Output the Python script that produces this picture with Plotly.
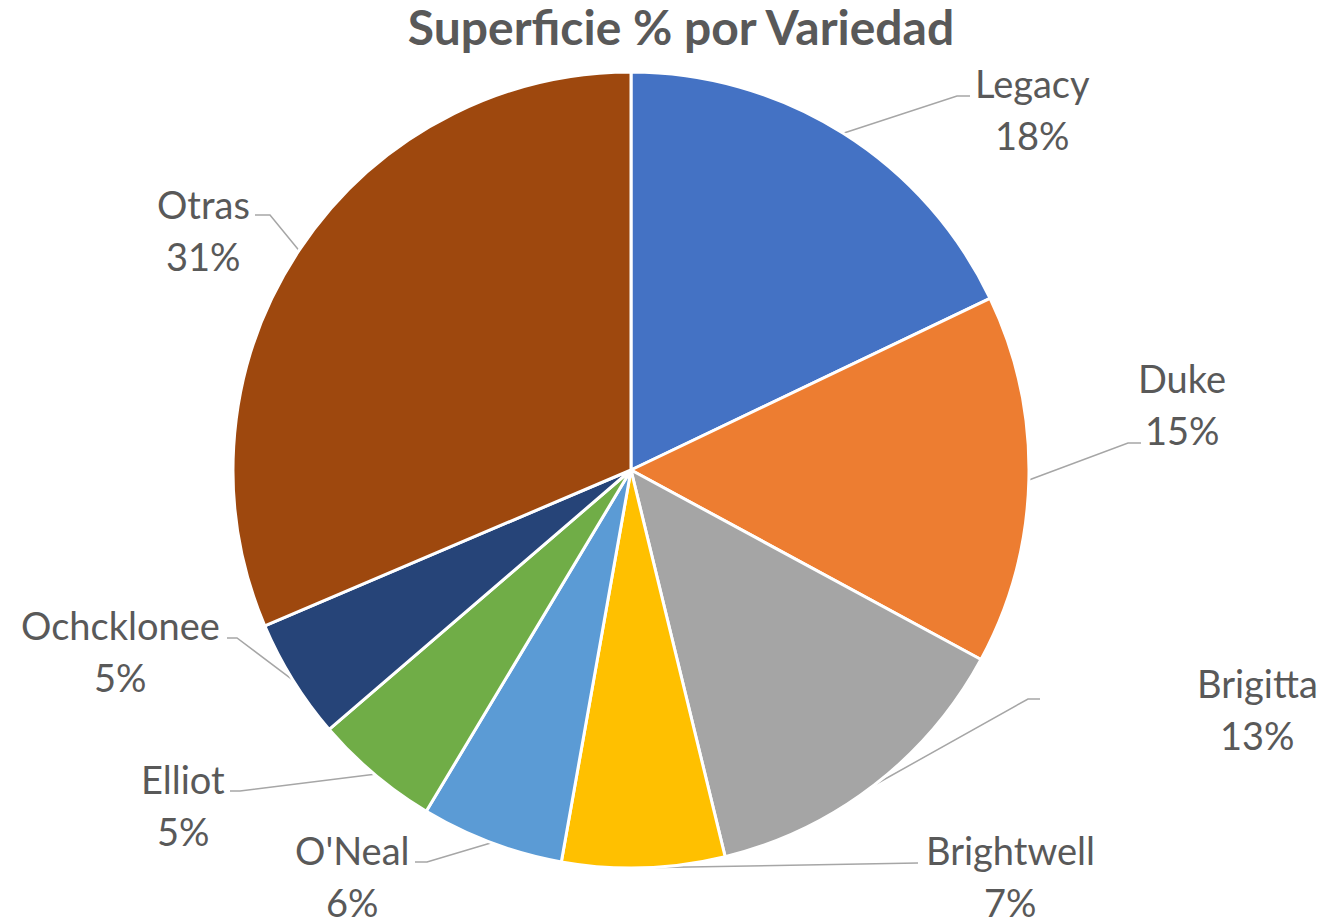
import math

import plotly.graph_objects as go

# Data
varieties = ["Legacy", "Duke", "Brigitta", "Brightwell", "O'Neal", "Elliot", "Ochcklonee", "Otras"]
shares = [17.9, 15.0, 13.3, 6.6, 5.8, 5.1, 4.9, 31.4]
colors = ["#4472C4", "#ED7D31", "#A5A5A5", "#FFC000", "#5B9BD5", "#70AD47", "#264478", "#9E480E"]

# Layout constants, in screen pixels (page body has an 8px margin)
W, H, OFF = 1325, 917, 8
CX, CY, R = 631, 470, 398
TEXT = "#595959"
FONT = "Lato, 'Open Sans', sans-serif"

# label text: centre x, first-line centre y
label_xy = [(1032, 83), (1182, 378), (1257, 683), (1010, 850),
            (352, 850), (183, 779), (120, 625), (203, 204)]
# where each leader line meets its label, and which way the short tail runs
leader_end = [(970, 96), (1141, 443), (1040, 699), (918, 863),
              (415, 862), (230, 791), (227, 638), (255, 215)]
tail = [-13, -13, -12, -13, 12, 10, 10, 15]
LINE_GAP = 52

fig = go.Figure()
fig.add_trace(go.Pie(
    labels=varieties, values=shares, sort=False, direction="clockwise", rotation=0,
    marker=dict(colors=colors, line=dict(color="white", width=3)),
    textinfo="none", hoverinfo="label+percent", showlegend=False,
    domain=dict(x=[(CX - OFF - R) / W, (CX - OFF + R) / W],
                y=[(H - CY + OFF - R) / H, (H - CY + OFF + R) / H]),
))

# leader lines start on the rim at each slice's mid angle
total = sum(shares)
cum = 0.0
lx, ly = [], []
for name, v, (tx, ty), (ex, ey), t in zip(varieties, shares, label_xy, leader_end, tail):
    mid = (cum + v / 2) / total * 2 * math.pi
    cum += v
    px, py = CX + R * math.sin(mid), CY - R * math.cos(mid)
    lx += [px, ex + t, ex, None]
    ly += [py, ey, ey, None]
    for text, y in ((name, ty), (f"{round(v / total * 100):.0f}%", ty + LINE_GAP)):
        fig.add_annotation(
            x=tx, y=y, xref="x", yref="y", showarrow=False, text=text,
            xanchor="center", yanchor="middle",
            font=dict(size=38, color=TEXT, family=FONT),
        )

fig.add_trace(go.Scatter(
    x=lx, y=ly, mode="lines", line=dict(color="#A6A6A6", width=1.5),
    hoverinfo="skip", showlegend=False,
))

fig.update_layout(
    width=W, height=H, margin=dict(l=0, r=0, t=0, b=0),
    paper_bgcolor="white", plot_bgcolor="rgba(0,0,0,0)",
    title=dict(text="<b>Superficie % por Variedad</b>", x=(681 - OFF) / W, xanchor="center",
               y=1 - (28 - OFF) / H, yanchor="middle",
               font=dict(size=48, color=TEXT, family=FONT)),
    xaxis=dict(range=[OFF, W + OFF], visible=False, fixedrange=True),
    yaxis=dict(range=[H + OFF, OFF], visible=False, fixedrange=True),
)

fig.write_html("out.html")
